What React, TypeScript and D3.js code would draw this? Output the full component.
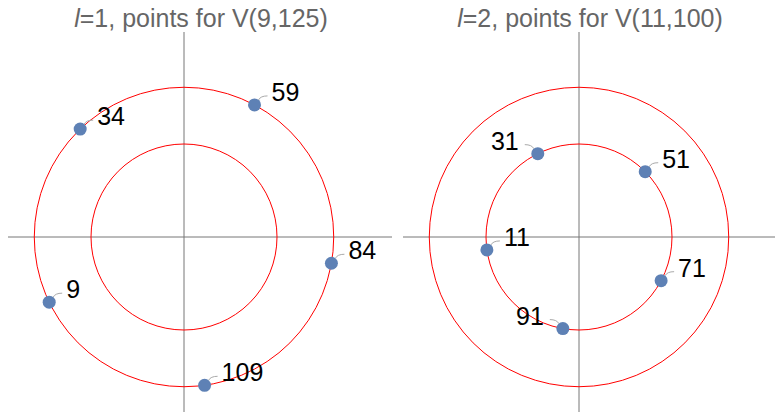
import React from 'react';
import * as d3 from 'd3';

// ring radii (inner ring = 1)
const ringRadii = [1, 1.61];

// panel l=1 : points on the outer ring
const leftLabels = [9, 34, 59, 84, 109];
const leftAngles = [205.8, 133.9, 61.9, -10.1, -82.1];

// panel l=2 : points on the inner ring
const rightLabels = [11, 31, 51, 71, 91];
const rightAngles = [188.0, 116.3, 44.6, -28.0, -100.0];
const rightLabelsOnLeft = [31, 91];

const panels = [
  { l: 1, title: 'points for V(9,125)', labels: leftLabels, angles: leftAngles, ring: 1, leftSide: [] as number[],
    x0: 8, x1: 392, cx: 184 },
  { l: 2, title: 'points for V(11,100)', labels: rightLabels, angles: rightAngles, ring: 0, leftSide: rightLabelsOnLeft,
    x0: 403, x1: 775, cx: 579 },
];

const W = 775;
const H = 415;
const unit = 93; // px per data unit
const cy = 237;
const yTop = 32;
const yBottom = 412;
const font = 'Liberation Sans, Arial, Helvetica, sans-serif';

const Panel = ({ p }: { p: typeof panels[number] }) => {
  const x = d3.scaleLinear()
    .domain([(p.x0 - p.cx) / unit, (p.x1 - p.cx) / unit])
    .range([p.x0, p.x1]);
  const y = d3.scaleLinear()
    .domain([(cy - yBottom) / unit, (cy - yTop) / unit])
    .range([yBottom, yTop]);

  const pts = p.labels.map((lab, i) => {
    const a = (p.angles[i] * Math.PI) / 180;
    const r = ringRadii[p.ring];
    return { lab, px: x(r * Math.cos(a)), py: y(r * Math.sin(a)), left: p.leftSide.includes(lab) };
  });

  const titleX = (p.x0 + p.x1) / 2 + 1;

  return (
    <g>
      <text x={titleX} y={27} textAnchor="middle" fill="#666" fontFamily={font} fontSize={25}>
        <tspan fontStyle="italic">l</tspan>=
        {p.l}, {p.title}
      </text>
      {/* axes */}
      <line x1={x(x.domain()[0])} x2={x(x.domain()[1])} y1={y(0)} y2={y(0)} stroke="#777" strokeWidth={1} />
      <line x1={x(0)} x2={x(0)} y1={y(y.domain()[0])} y2={y(y.domain()[1])} stroke="#777" strokeWidth={1} />
      {/* rings */}
      {ringRadii.map((r, i) => (
        <circle key={i} cx={x(0)} cy={y(0)} r={x(r) - x(0)} fill="none" stroke="#ff0000" strokeWidth={1} />
      ))}
      {/* callouts */}
      {pts.map(d => {
        const s = d.left ? -1 : 1;
        return (
          <path key={'c' + d.lab}
            d={`M${d.px + s * 4},${d.py - 5} Q${d.px + s * 6},${d.py - 9} ${d.px + s * 13},${d.py - 9}`}
            fill="none" stroke="#aaa" strokeWidth={1} />
        );
      })}
      {pts.map(d => (
        <circle key={'p' + d.lab} cx={d.px} cy={d.py} r={6.5} fill="#5e81b5" />
      ))}
      {pts.map(d => (
        <text key={'t' + d.lab} x={d.px + (d.left ? -19 : 17)} y={d.py - 4}
          textAnchor={d.left ? 'end' : 'start'} fontFamily={font} fontSize={25} fill="#000">
          {d.lab}
        </text>
      ))}
    </g>
  );
};

export default function App() {
  return (
    <div style={{ position: 'absolute', left: 0, top: 0 }}>
      <svg width={W} height={H} style={{ display: 'block', background: '#fff' }}>
        {panels.map(p => <Panel key={p.l} p={p} />)}
      </svg>
    </div>
  );
}
